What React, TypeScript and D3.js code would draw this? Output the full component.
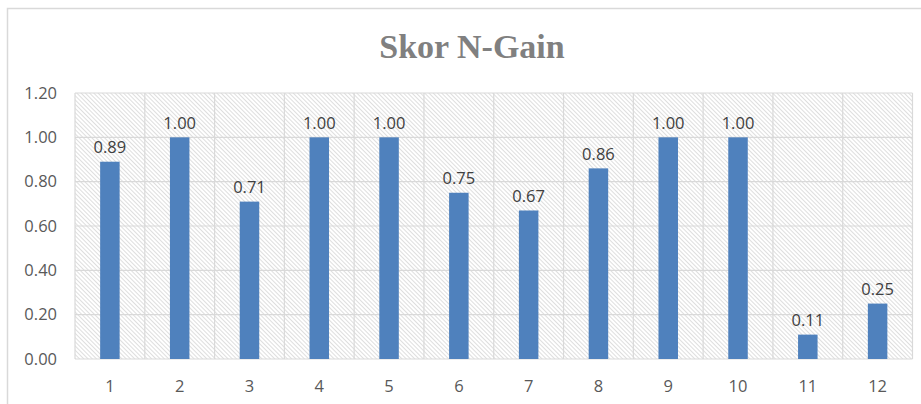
import React from "react";
import * as d3 from "d3";

const categories = ["1", "2", "3", "4", "5", "6", "7", "8", "9", "10", "11", "12"];
const values = [0.89, 1.0, 0.71, 1.0, 1.0, 0.75, 0.67, 0.86, 1.0, 1.0, 0.11, 0.25];
const yTicks = [0, 0.2, 0.4, 0.6, 0.8, 1.0, 1.2];
const title = "Skor N-Gain";

export default function App() {
  const W = 921, H = 404;
  const left = 75, right = 912.5, top = 93, bottom = 359;
  const x = d3.scaleBand<string>().domain(categories).range([left, right]).paddingInner(0).paddingOuter(0);
  const y = d3.scaleLinear().domain([0, 1.2]).range([bottom, top]);
  const barW = 19.5;
  const font = "'Open Sans', 'Noto Sans', sans-serif";
  const boundaries = categories.map((c) => x(c)!).concat([right]);
  return (
    <svg width={W} height={H} style={{ position: "absolute", left: 0, top: 0, background: "#fff" }}>
      <defs>
        <pattern id="hatch" patternUnits="userSpaceOnUse" width="3" height="3" patternTransform="rotate(-45)">
          <rect width="3" height="3" fill="#ffffff" />
          <line x1="0.5" y1="0" x2="0.5" y2="3" stroke="#dedede" strokeWidth="1" />
        </pattern>
      </defs>
      <rect x={7.5} y={8.5} width={W + 20} height={H + 20} fill="#fff" stroke="#d9d9d9" strokeWidth={1.5} />
      <text x={472} y={58} textAnchor="middle" fontFamily="'Liberation Serif', serif" fontWeight="bold" fontSize={34} fill="#808080">
        {title}
      </text>
      <rect x={left} y={top} width={right - left} height={bottom - top} fill="url(#hatch)" />
      {yTicks.map((t) => (
        <line key={"h" + t} x1={left} x2={right} y1={y(t)} y2={y(t)} stroke="#d9d9d9" strokeWidth={1.2} />
      ))}
      {boundaries.map((b, i) => (
        <line key={"v" + i} x1={b} x2={b} y1={top} y2={bottom} stroke="#d9d9d9" strokeWidth={1.2} />
      ))}
      {yTicks.map((t) => (
        <text key={"yt" + t} x={57} y={y(t)} dy="0.35em" textAnchor="end" fontFamily={font} fontSize={16.5} fill="#595959">
          {t.toFixed(2)}
        </text>
      ))}
      {categories.map((c, i) => {
        const cx = x(c)! + x.bandwidth() / 2;
        return (
          <g key={c}>
            <rect x={cx - barW / 2} y={y(values[i])} width={barW} height={bottom - y(values[i])} fill="#4f81bd" />
            <text x={cx} y={y(values[i]) - 8.5} textAnchor="middle" fontFamily={font} fontSize={16.5} fill="#404040">
              {values[i].toFixed(2)}
            </text>
            <text x={cx} y={392} textAnchor="middle" fontFamily={font} fontSize={16.5} fill="#595959">
              {c}
            </text>
          </g>
        );
      })}
    </svg>
  );
}
